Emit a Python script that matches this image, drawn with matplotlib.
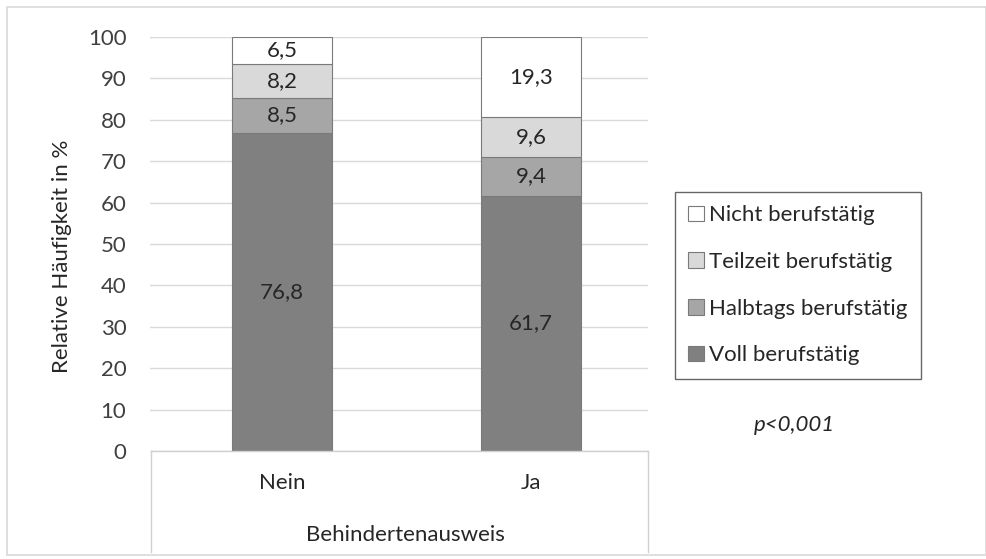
import matplotlib
matplotlib.use("Agg")
import matplotlib.pyplot as plt
from matplotlib.patches import Rectangle
from matplotlib.lines import Line2D

plt.rcParams['font.family'] = ['Lato', 'DejaVu Sans']

categories = ["Nein", "Ja"]
series_names = ["Voll berufstätig", "Halbtags berufstätig", "Teilzeit berufstätig", "Nicht berufstätig"]
voll = [76.8, 61.7]
halbtags = [8.5, 9.4]
teilzeit = [8.2, 9.6]
nicht = [6.5, 19.3]
colors = ["#808080", "#a6a6a6", "#d9d9d9", "#ffffff"]
yticks = [0, 10, 20, 30, 40, 50, 60, 70, 80, 90, 100]

W, H = 986, 559
FS = 16
fig = plt.figure(figsize=(W / 100, H / 100), dpi=100)


def px(x, y):
    return x / W, 1 - y / H


# plot area in pixel coordinates
x0, x1 = 150, 648
ytop, ybot = 37, 451
ax = fig.add_axes([x0 / W, 1 - ybot / H, (x1 - x0) / W, (ybot - ytop) / H])

series = [voll, halbtags, teilzeit, nicht]
xs = [0, 1]
bottom = [0.0, 0.0]
handles = []
for vals, name, col in zip(series, series_names, colors):
    bars = ax.bar(xs, vals, bottom=bottom, width=0.40, color=col,
                  edgecolor="#7a7a7a", linewidth=0.8, zorder=3, label=name)
    for xi, v, b in zip(xs, vals, bottom):
        ax.text(xi, b + v / 2, f"{v:.1f}".replace(".", ","), ha="center", va="center",
                fontsize=FS, color="#262626", zorder=4)
    bottom = [b + v for b, v in zip(bottom, vals)]
    handles.append(bars)

ax.set_xlim(-0.53, 1.47)
ax.set_ylim(0, 100)
ax.set_yticks(yticks)
ax.set_yticklabels([str(t) for t in yticks], fontsize=FS, color="#404040")
ax.tick_params(axis="y", length=0, pad=17)
ax.set_xticks([])
ax.grid(axis="y", color="#d9d9d9", linewidth=1, zorder=0)
for s in ax.spines.values():
    s.set_visible(False)

fig.text(*px(62, 256), "Relative Häufigkeit in %", rotation=90, ha="center", va="center",
         fontsize=FS, color="#262626")

# category axis box beneath the plot
for xv in (151, 648):
    fig.add_artist(Line2D([xv / W, xv / W], [1 - 451 / H, 1 - 552 / H], color="#d0d0d0", lw=1))
fig.add_artist(Line2D([151 / W, 648 / W], [1 - 451 / H, 1 - 451 / H], color="#d0d0d0", lw=1))

for xi, cat in zip(xs, categories):
    xd = ax.transData.transform((xi, 0))[0]
    fig.text(xd / W, 1 - 483 / H, cat, ha="center", va="center", fontsize=FS, color="#262626")
fig.text(*px(405, 535), "Behindertenausweis", ha="center", va="center", fontsize=FS, color="#262626")

# outer chart border
fig.add_artist(Rectangle(px(7, 555), (W - 7) / W, 548 / H, fill=False,
                         edgecolor="#d9d9d9", lw=1.2, transform=fig.transFigure))

leg = fig.legend([handles[i] for i in (3, 2, 1, 0)], [series_names[i] for i in (3, 2, 1, 0)],
                 loc="upper left", bbox_to_anchor=px(675, 192), fontsize=FS,
                 frameon=True, fancybox=False, edgecolor="#404040", labelspacing=1.2,
                 handlelength=0.7, handleheight=0.7, handletextpad=0.25, borderpad=0.6,
                 borderaxespad=0)
leg.get_frame().set_linewidth(1)
for t in leg.get_texts():
    t.set_color("#262626")

fig.text(*px(794, 425), "p<0,001", ha="center", va="center", fontsize=FS,
         style="italic", color="#262626")

fig.savefig("out.png", dpi=100)
